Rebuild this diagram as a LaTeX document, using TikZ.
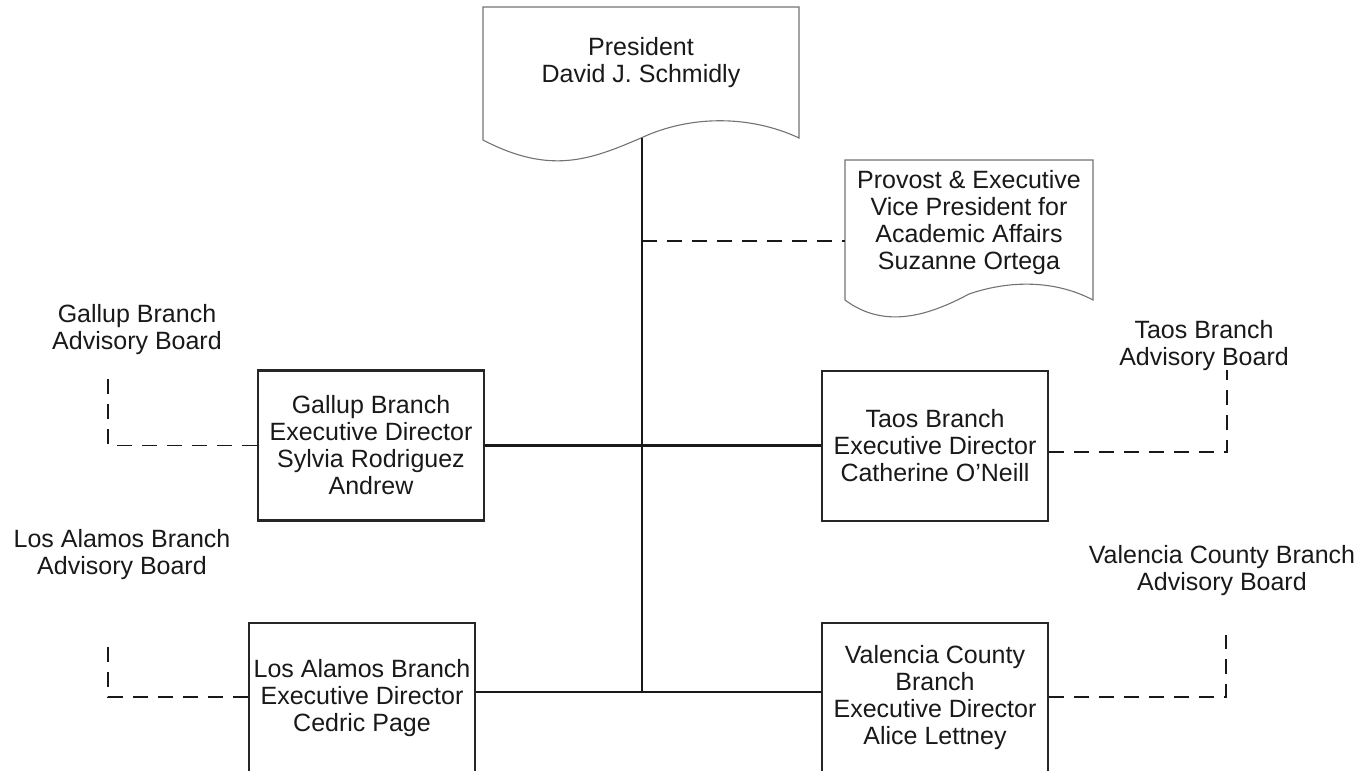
\documentclass[tikz,border=0pt]{standalone}
\usepackage{fontspec}
\setmainfont{Liberation Sans}
\begin{document}
\begin{tikzpicture}[x=1pt,y=-1pt,
  every node/.style={font=\fontsize{25}{27}\selectfont, align=center, text=black!90, inner sep=0pt},
  orgbox/.style={draw=black!85, line width=2.1pt, minimum width=226pt, minimum height=150pt},
  docshape/.style={draw=black!55, line width=1.1pt, fill=white},
  solidlink/.style={draw=black!90, line width=2.3pt},
  dashlink/.style={draw=black!90, line width=1.7pt, dash pattern=on 15pt off 10pt}]
\useasboundingbox (0,0) rectangle (1361,771);
\clip (0,0) rectangle (1361,771);

% President document shape
\draw[docshape] (483,140) -- (483,7) -- (799,7) -- (799,138)
  .. controls (750,115) and (690,115) .. (641,138)
  .. controls (590,160) and (550,175) .. (483,140) -- cycle;
\node (pres) at (641,63) {President\\David J. Schmidly};
\coordinate (presb) at (642,138);

% Provost document shape
\draw[docshape] (845,300) -- (845,160) -- (1093,160) -- (1093,300)
  .. controls (1055,280) and (1010,280) .. (969,294)
  .. controls (930,315) and (885,330) .. (845,300) -- cycle;
\node (prov) at (969,223) {Provost \& Executive\\Vice President for\\Academic Affairs\\Suzanne Ortega};
\coordinate (provw) at (845,241);
\coordinate (provj) at (642,241);

% Branch boxes
\node[orgbox] (gal) at (371,445.5) {Gallup Branch\\Executive Director\\Sylvia Rodriguez\\Andrew};
\node[orgbox] (taos) at (935,446) {Taos Branch\\Executive Director\\Catherine O’Neill};
\node[orgbox] (la) at (362,698) {Los Alamos Branch\\Executive Director\\Cedric Page};
\node[orgbox] (val) at (935,698) {Valencia County\\Branch\\Executive Director\\Alice Lettney};

% Advisory board labels
\node (galb) at (137,330) {Gallup Branch\\Advisory Board};
\node (taosb) at (1204,346) {Taos Branch\\Advisory Board};
\node (lab) at (122,555) {Los Alamos Branch\\Advisory Board};
\node (valb) at (1222,571) {Valencia County Branch\\Advisory Board};

% junction coordinates
\coordinate (junc) at (642,692);
\coordinate (galc) at (108,370);
\coordinate (taosc) at (1227,370);
\coordinate (lac) at (108,642);
\coordinate (valc) at (1226,635);

% solid connectors
\draw[solidlink] (presb) -- (junc);
\draw[solidlink] (gal.east) -- (gal.east -| taos.west);
\draw[solidlink] (la.east |- junc) -- (val.west |- junc);

% dashed connectors
\draw[dashlink] (provj) -- (provw);
\draw[dashlink] (gal.west) -- (galc |- gal.west) -- (galc);
\draw[dashlink] (taos.east |- 0,452) -- (taosc |- 0,452) -- (taosc);
\draw[dashlink] (la.west |- 0,697) -- (lac |- 0,697) -- (lac);
\draw[dashlink] (val.east |- 0,697) -- (valc |- 0,697) -- (valc);
\end{tikzpicture}
\end{document}
